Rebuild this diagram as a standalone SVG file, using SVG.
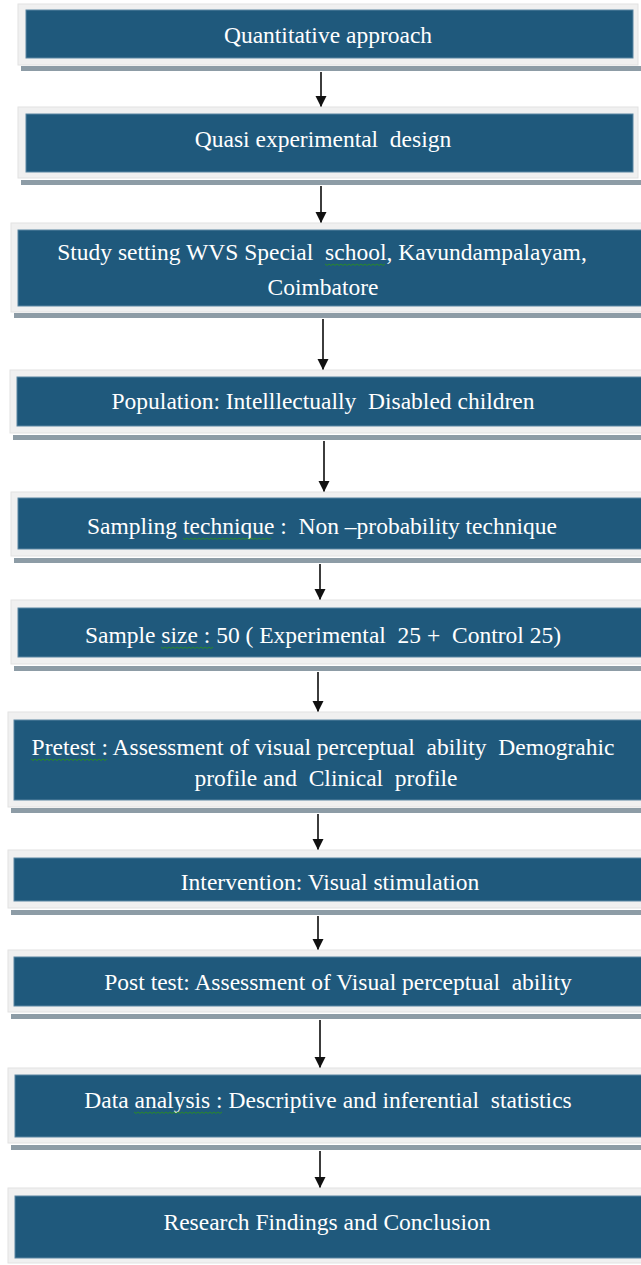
<svg xmlns="http://www.w3.org/2000/svg" width="641" height="1265" viewBox="0 0 641 1265">
<defs>
<style>
.frame{fill:#f0f0f0;stroke:#e2e2e2;stroke-width:1}
.box{fill:#1f597c;stroke:#5b86a2;stroke-width:1}
.shadow{fill:#8d9ca6}
.t{font-family:"Liberation Serif","Times New Roman",serif;font-size:23.5px;fill:#ffffff;text-anchor:middle;white-space:pre}
.arrow{stroke:#1a1a1a;stroke-width:1.7;fill:none;marker-end:url(#ah)}
.sq{stroke:#2a8a2a;stroke-width:1;fill:none}
</style>
<marker id="ah" markerUnits="userSpaceOnUse" markerWidth="12" markerHeight="13" refX="11" refY="5.5" orient="auto">
<path d="M0,0 L11,5.5 L0,11 Z" fill="#111"/>
</marker>
</defs>
<rect width="641" height="1265" fill="#ffffff"/>
<g id="connectors">
<line class="arrow" x1="321" y1="72" x2="321" y2="107"/>
<line class="arrow" x1="321" y1="186" x2="321" y2="223"/>
<line class="arrow" x1="323" y1="319" x2="323" y2="370"/>
<line class="arrow" x1="324" y1="441" x2="324" y2="492"/>
<line class="arrow" x1="320" y1="564" x2="320" y2="600"/>
<line class="arrow" x1="318" y1="672" x2="318" y2="712"/>
<line class="arrow" x1="318" y1="814" x2="318" y2="850"/>
<line class="arrow" x1="318" y1="916" x2="318" y2="950"/>
<line class="arrow" x1="320" y1="1020" x2="320" y2="1068"/>
<line class="arrow" x1="320" y1="1151" x2="320" y2="1188"/>
</g>
<g id="n1">
<rect class="shadow" x="21" y="66" width="620" height="5"/>
<rect class="frame" x="18" y="4" width="620" height="61"/>
<rect class="box" x="26" y="10" width="607" height="48"/>
<text class="t" x="328" y="43">Quantitative approach</text>
</g>
<g id="n2">
<rect class="shadow" x="21" y="180" width="620" height="5"/>
<rect class="frame" x="18" y="107" width="620" height="71"/>
<rect class="box" x="26" y="114" width="607" height="58"/>
<text class="t" x="323" y="147">Quasi experimental  design</text>
</g>
<g id="n3">
<rect class="shadow" x="14" y="313" width="640" height="5"/>
<rect class="frame" x="11" y="223" width="640" height="89"/>
<rect class="box" x="18" y="230" width="640" height="76"/>
<text class="t" x="322" y="260">Study setting WVS Special  school, Kavundampalayam,</text>
<text class="t" x="323" y="295">Coimbatore</text>
<path class="sq" d="M325,264 l2,1.5 l2,-1.5 l2,1.5 l2,-1.5 l2,1.5 l2,-1.5 l2,1.5 l2,-1.5 l2,1.5 l2,-1.5 l2,1.5 l2,-1.5 l2,1.5 l2,-1.5 l2,1.5 l2,-1.5 l2,1.5 l2,-1.5 l2,1.5 l2,-1.5 l2,1.5 l2,-1.5 l2,1.5 l2,-1.5 l2,1.5 l2,-1.5 l2,1.5 l2,-1.5 l2,1.5 l2,-1.5"/>
</g>
<g id="n4">
<rect class="shadow" x="13" y="435" width="640" height="5"/>
<rect class="frame" x="10" y="370" width="640" height="63"/>
<rect class="box" x="17" y="377" width="640" height="49"/>
<text class="t" x="323" y="409">Population: Intelllectually  Disabled children</text>
</g>
<g id="n5">
<rect class="shadow" x="14" y="558" width="640" height="5"/>
<rect class="frame" x="11" y="492" width="640" height="64"/>
<rect class="box" x="18" y="498" width="640" height="51"/>
<text class="t" x="322" y="534">Sampling technique :  Non –probability technique</text>
<path class="sq" d="M183,538 l2,1.5 l2,-1.5 l2,1.5 l2,-1.5 l2,1.5 l2,-1.5 l2,1.5 l2,-1.5 l2,1.5 l2,-1.5 l2,1.5 l2,-1.5 l2,1.5 l2,-1.5 l2,1.5 l2,-1.5 l2,1.5 l2,-1.5 l2,1.5 l2,-1.5 l2,1.5 l2,-1.5 l2,1.5 l2,-1.5 l2,1.5 l2,-1.5 l2,1.5 l2,-1.5 l2,1.5 l2,-1.5 l2,1.5 l2,-1.5 l2,1.5 l2,-1.5 l2,1.5 l2,-1.5 l2,1.5 l2,-1.5 l2,1.5 l2,-1.5 l2,1.5 l2,-1.5 l2,1.5 l2,-1.5"/>
</g>
<g id="n6">
<rect class="shadow" x="14" y="666" width="640" height="5"/>
<rect class="frame" x="11" y="600" width="640" height="64"/>
<rect class="box" x="18" y="608" width="640" height="49"/>
<text class="t" x="323" y="643">Sample size : 50 ( Experimental  25 +  Control 25)</text>
<path class="sq" d="M161,647 l2,1.5 l2,-1.5 l2,1.5 l2,-1.5 l2,1.5 l2,-1.5 l2,1.5 l2,-1.5 l2,1.5 l2,-1.5 l2,1.5 l2,-1.5 l2,1.5 l2,-1.5 l2,1.5 l2,-1.5 l2,1.5 l2,-1.5 l2,1.5 l2,-1.5 l2,1.5 l2,-1.5 l2,1.5 l2,-1.5 l2,1.5 l2,-1.5"/>
</g>
<g id="n7">
<rect class="shadow" x="11" y="808" width="640" height="5"/>
<rect class="frame" x="8" y="712" width="640" height="95"/>
<rect class="box" x="14" y="720" width="640" height="80"/>
<text class="t" x="323" y="755">Pretest : Assessment of visual perceptual  ability  Demograhic</text>
<text class="t" x="326" y="786">profile and  Clinical  profile</text>
<path class="sq" d="M31,759 l2,1.5 l2,-1.5 l2,1.5 l2,-1.5 l2,1.5 l2,-1.5 l2,1.5 l2,-1.5 l2,1.5 l2,-1.5 l2,1.5 l2,-1.5 l2,1.5 l2,-1.5 l2,1.5 l2,-1.5 l2,1.5 l2,-1.5 l2,1.5 l2,-1.5 l2,1.5 l2,-1.5 l2,1.5 l2,-1.5 l2,1.5 l2,-1.5 l2,1.5 l2,-1.5 l2,1.5 l2,-1.5 l2,1.5 l2,-1.5 l2,1.5 l2,-1.5 l2,1.5 l2,-1.5 l2,1.5 l2,-1.5"/>
</g>
<g id="n8">
<rect class="shadow" x="11" y="910" width="640" height="5"/>
<rect class="frame" x="8" y="850" width="640" height="58"/>
<rect class="box" x="14" y="858" width="640" height="43"/>
<text class="t" x="330" y="890">Intervention: Visual stimulation</text>
</g>
<g id="n9">
<rect class="shadow" x="11" y="1014" width="640" height="5"/>
<rect class="frame" x="8" y="950" width="640" height="62"/>
<rect class="box" x="14" y="957" width="640" height="49"/>
<text class="t" x="338" y="990">Post test: Assessment of Visual perceptual  ability</text>
</g>
<g id="n10">
<rect class="shadow" x="11" y="1145" width="640" height="5"/>
<rect class="frame" x="8" y="1068" width="640" height="75"/>
<rect class="box" x="15" y="1075" width="640" height="62"/>
<text class="t" x="328" y="1108">Data analysis : Descriptive and inferential  statistics</text>
<path class="sq" d="M134,1112 l2,1.5 l2,-1.5 l2,1.5 l2,-1.5 l2,1.5 l2,-1.5 l2,1.5 l2,-1.5 l2,1.5 l2,-1.5 l2,1.5 l2,-1.5 l2,1.5 l2,-1.5 l2,1.5 l2,-1.5 l2,1.5 l2,-1.5 l2,1.5 l2,-1.5 l2,1.5 l2,-1.5 l2,1.5 l2,-1.5 l2,1.5 l2,-1.5 l2,1.5 l2,-1.5 l2,1.5 l2,-1.5 l2,1.5 l2,-1.5 l2,1.5 l2,-1.5 l2,1.5 l2,-1.5 l2,1.5 l2,-1.5 l2,1.5 l2,-1.5 l2,1.5 l2,-1.5 l2,1.5 l2,-1.5"/>
</g>
<g id="n11">
<rect class="frame" x="8" y="1188" width="640" height="75"/>
<rect class="box" x="15" y="1196" width="640" height="62"/>
<text class="t" x="327" y="1230">Research Findings and Conclusion</text>
</g>
</svg>
